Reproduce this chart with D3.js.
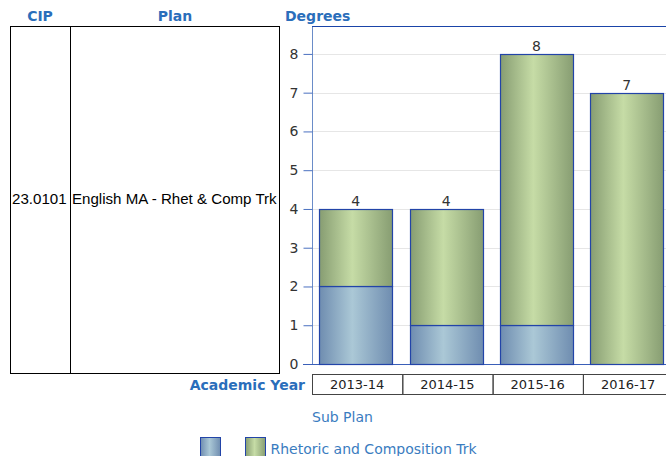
<!DOCTYPE html>
<html>
<head>
<meta charset="utf-8">
<script src="https://cdn.jsdelivr.net/npm/d3@7"></script>
<style>
  body { margin: 0; background: #fff; }
  svg { display: block; }
</style>
</head>
<body>
<svg id="chart" width="666" height="456"></svg>
<script>
const years = ["2013-14", "2014-15", "2015-16", "2016-17"]
const subPlans = ["", "Rhetoric and Composition Trk"]
const blankPlan = [2, 1, 1, 0]
const rhetComp = [2, 3, 7, 7]
const yTicks = [0, 1, 2, 3, 4, 5, 6, 7, 8]
const cip = "23.0101"
const plan = "English MA - Rhet & Comp Trk"

const headBlue = "#2a6ebb"
const svg = d3.select("#chart")

// stacking
let rows = years.map((y, i) => ({ year: y, a: blankPlan[i], b: rhetComp[i] }))
let stack = d3.stack().keys(["a", "b"])(rows)

let x = d3.scaleBand().domain(years).range([312, 670.5]).paddingInner(0.19).paddingOuter(0.08)
let y = d3.scaleLinear().domain([0, 8.72]).range([364, 26])

// gradients
let defs = svg.append("defs")
function grad(id, edge, mid) {
  let g = defs.append("linearGradient").attr("id", id).attr("x1", 0).attr("x2", 1).attr("y1", 0).attr("y2", 0)
  g.append("stop").attr("offset", "0%").attr("stop-color", edge)
  g.append("stop").attr("offset", "45%").attr("stop-color", mid)
  g.append("stop").attr("offset", "100%").attr("stop-color", edge)
}
grad("gBlue", "#6f8db0", "#abc8d6")
grad("gGreen", "#879d72", "#c6dca6")
const fills = ["url(#gBlue)", "url(#gGreen)"]

// left table
svg.append("text").attr("x", 40).attr("y", 21).attr("text-anchor", "middle")
  .style("font", "bold 14px 'DejaVu Sans'").attr("fill", headBlue).text("CIP")
svg.append("text").attr("x", 175).attr("y", 21).attr("text-anchor", "middle")
  .style("font", "bold 14px 'DejaVu Sans'").attr("fill", headBlue).text("Plan")
svg.append("rect").attr("x", 10.5).attr("y", 26.5).attr("width", 269).attr("height", 347)
  .attr("fill", "none").attr("stroke", "#000")
svg.append("line").attr("x1", 70.5).attr("x2", 70.5).attr("y1", 26.5).attr("y2", 373.5).attr("stroke", "#000")
svg.append("text").attr("x", 12).attr("y", 204).style("font", "15.1px 'Liberation Sans'").attr("fill", "#000").text(cip)
svg.append("text").attr("x", 72).attr("y", 204).style("font", "15.1px 'Liberation Sans'").attr("fill", "#000").text(plan)

// chart title
svg.append("text").attr("x", 285).attr("y", 21).style("font", "bold 14px 'DejaVu Sans'")
  .attr("fill", headBlue).text("Degrees")

// gridlines
svg.append("g").selectAll("line").data(yTicks.filter(d => d > 0)).enter().append("line")
  .attr("x1", 312).attr("x2", 666).attr("y1", d => Math.round(y(d)) + 0.5).attr("y2", d => Math.round(y(d)) + 0.5)
  .attr("stroke", "#e6e6e6")

// y axis
let yAxis = svg.append("g").attr("transform", "translate(312.5,0)")
  .call(d3.axisLeft(y).tickValues(yTicks).tickSize(9).tickPadding(5).tickFormat(d3.format("d")))
yAxis.select(".domain").attr("stroke", "#6a8cc8").attr("d", "M0,26V364")
yAxis.selectAll(".tick line").attr("stroke", "#4a70c0")
yAxis.selectAll(".tick text").style("font", "14px 'DejaVu Sans'").attr("fill", "#333")

// top border and baseline
svg.append("line").attr("x1", 312).attr("x2", 666).attr("y1", 26.5).attr("y2", 26.5).attr("stroke", "#1a44a8")
svg.append("line").attr("x1", 303).attr("x2", 666).attr("y1", y(0) + 0.5).attr("y2", y(0) + 0.5).attr("stroke", "#3a5fb8")

// bars
svg.append("g").selectAll("g").data(stack).enter().append("g")
  .attr("fill", (d, i) => fills[i])
  .selectAll("rect").data(d => d.filter(p => p[1] > p[0])).enter().append("rect")
    .attr("x", d => Math.round(x(d.data.year)) + 0.5)
    .attr("y", d => Math.round(y(d[1])) + 0.5)
    .attr("width", Math.round(x.bandwidth()))
    .attr("height", d => Math.round(y(d[0])) - Math.round(y(d[1])))
    .attr("stroke", "#2244a8").attr("stroke-width", 1.2)

// totals
svg.append("g").selectAll("text").data(rows).enter().append("text")
  .attr("x", d => x(d.year) + x.bandwidth() / 2)
  .attr("y", d => y(d.a + d.b) - 3)
  .attr("text-anchor", "middle").style("font", "14px 'DejaVu Sans'").attr("fill", "#333")
  .text(d => d.a + d.b)

// category row
let step = x.step()
let cat = svg.append("g")
cat.selectAll("rect").data(years).enter().append("rect")
  .attr("x", (d, i) => 312.5 + i * step).attr("y", 374.5).attr("width", step).attr("height", 20)
  .attr("fill", "none").attr("stroke", "#444")
cat.selectAll("text").data(years).enter().append("text")
  .attr("x", (d, i) => 312 + i * step + step / 2).attr("y", 389)
  .attr("text-anchor", "middle").style("font", "13px 'DejaVu Sans'").attr("fill", "#222").text(d => d)
svg.append("text").attr("x", 305).attr("y", 390).attr("text-anchor", "end")
  .style("font", "bold 14px 'DejaVu Sans'").attr("fill", headBlue).text("Academic Year")

// legend
svg.append("text").attr("x", 312).attr("y", 422).style("font", "14px 'DejaVu Sans'")
  .attr("fill", "#3a7cc0").text("Sub Plan")
let leg = svg.append("g").selectAll("g").data(subPlans).enter().append("g")
  .attr("transform", (d, i) => `translate(${200.5 + i * 45},437.5)`)
leg.append("rect").attr("width", 20).attr("height", 20).attr("fill", (d, i) => fills[i])
  .attr("stroke", "#2244a8")
leg.append("text").attr("x", 25).attr("y", 16).style("font", "14px 'DejaVu Sans'")
  .attr("fill", "#3a7cc0").text(d => d)
</script>
</body>
</html>
